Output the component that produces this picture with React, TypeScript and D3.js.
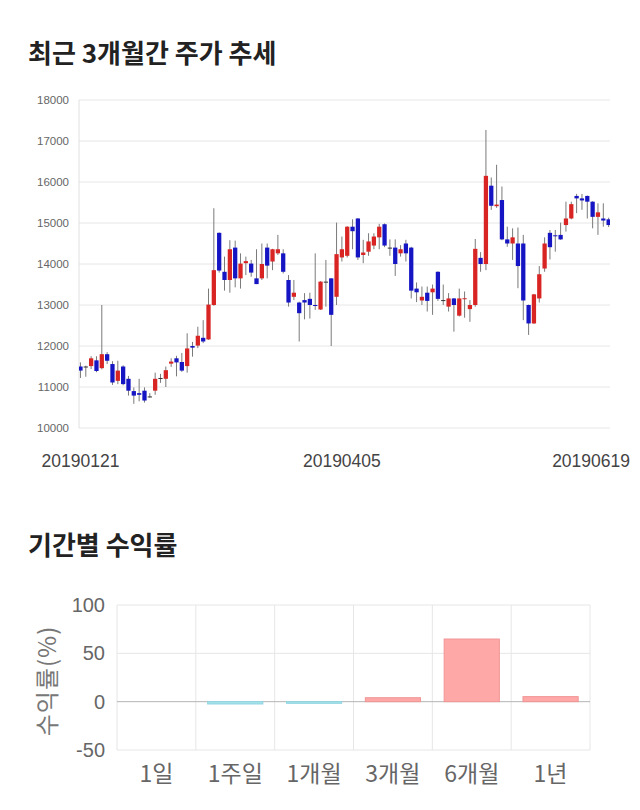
import React from "react";
import * as d3 from "d3";

// ---- Candle data (daily OHLC), 2019-01-21 .. 2019-06-19 ----
const candleOpen = [
  11500, 11500, 11510, 11650, 11460, 11800, 11560, 11150, 11500, 11200,
  10900, 10850, 10910, 10770, 10910, 11220, 11200, 11570, 11700, 11610,
  11510, 12000, 12010, 12200, 12160, 13000, 14760, 13810, 13610, 14400,
  13650, 14020, 14010, 13650, 13650, 14400, 14060, 14260, 14260, 13610,
  13200, 13060, 13120, 13150, 13000, 12890, 13570, 13650, 13200, 14160,
  14200, 14910, 15110, 14220, 14300, 14450, 14650, 14970, 14400, 14400,
  14260, 14500, 14400, 13400, 13110, 13300, 13310, 13810, 13120, 12960,
  13160, 12740, 13160, 12900, 13000, 14150, 14000, 15910, 15410, 15560,
  14600, 14500, 14500, 14500, 13000, 12550, 13160, 13890, 14760, 14700,
  14710, 14950, 15110, 15660, 15600, 15660, 15520, 15150, 15110, 15090,
];
const candleHigh = [
  11600, 11520, 11750, 11750, 13000, 11850, 11630, 11640, 11530, 11270,
  10990, 11200, 10990, 10850, 11350, 11320, 11500, 11700, 11760, 11830,
  12310, 12100, 12470, 12630, 13400, 15360, 14770, 14180, 14580, 14570,
  14260, 14180, 14100, 14360, 14500, 14500, 14370, 14710, 14360, 13730,
  13610, 13080, 13290, 13300, 14260, 13580, 14100, 13650, 15010, 14670,
  14920, 15090, 15120, 14590, 14750, 14750, 14980, 14990, 14600, 14600,
  14460, 14590, 14420, 13550, 13450, 13450, 13500, 13820, 13500, 13290,
  13170, 13400, 13330, 13120, 14610, 14290, 17270, 16110, 16420, 15890,
  14910, 14870, 14890, 14710, 13010, 13270, 13950, 14650, 14830, 14830,
  15010, 15520, 15520, 15710, 15710, 15670, 15530, 15480, 15480, 15130,
];
const candleLow = [
  11220, 11250, 11440, 11360, 11430, 11560, 11050, 11070, 11040, 10790,
  10590, 10650, 10620, 10740, 10810, 11100, 11000, 11490, 11260, 11370,
  11350, 11740, 11950, 12070, 12150, 12980, 13790, 13350, 13300, 13430,
  13400, 13730, 13690, 13510, 13610, 13650, 13850, 14220, 13770, 12960,
  13120, 12110, 12650, 12670, 12880, 12880, 12960, 12000, 13000, 14060,
  14160, 14360, 14100, 14020, 14200, 14360, 14360, 14410, 14200, 13710,
  14180, 14060, 13160, 13070, 13000, 12840, 12760, 13100, 13000, 12840,
  12350, 12720, 12690, 12590, 12960, 13810, 13850, 15320, 15370, 14580,
  14420, 14100, 13410, 12630, 12270, 12540, 13060, 13810, 14110, 14300,
  14590, 14790, 15090, 15240, 15320, 15110, 14870, 14710, 14910, 14900,
];
const candleClose = [
  11400, 11500, 11700, 11390, 11800, 11640, 11110, 11400, 11070, 10910,
  10790, 10810, 10670, 10770, 11200, 11220, 11410, 11620, 11600, 11400,
  11940, 11960, 12250, 12110, 13010, 13850, 13840, 13610, 14360, 13650,
  14010, 14070, 13790, 13510, 14000, 13960, 14360, 14360, 13810, 13060,
  13300, 12800, 13060, 13000, 12990, 13570, 13570, 12760, 14240, 14360,
  14910, 14800, 14160, 14280, 14550, 14670, 14910, 14450, 14400, 14000,
  14360, 14260, 13350, 13310, 13200, 13100, 13400, 13150, 13120, 13160,
  13000, 13160, 13165, 13000, 14370, 14000, 16150, 15420, 15450, 14600,
  14500, 14650, 13950, 13110, 12550, 13260, 13750, 14500, 14410, 14690,
  14600, 15110, 15460, 15600, 15550, 15520, 15150, 15260, 15060, 14950,
];
const xTickIndex = [0, 49, 99];
const xTickLabels = ["20190121", "20190405", "20190619"];
const priceTicks = [10000, 11000, 12000, 13000, 14000, 15000, 16000, 17000, 18000];

// ---- Period returns ----
const periods = ["1일", "1주일", "1개월", "3개월", "6개월", "1년"];
const returns = [0, -2.4, -1.7, 4.1, 64.8, 5.2];
const returnTicks = [-50, 0, 50, 100];

const KR = "'Noto Sans CJK KR', 'Noto Sans', sans-serif";

export default function App() {
  // top chart
  const idx = candleOpen.map((_, i) => i);
  const x = d3.scaleBand<number>().domain(idx).range([77.8, 611.3]).padding(0);
  const y = d3.scaleLinear().domain([10000, 18000]).range([428, 100]);
  const bw = x.bandwidth() * 0.8;
  const plotL = 79, plotR = 610;

  // bottom chart
  const bx = d3.scaleBand<string>().domain(periods).range([117, 590]).paddingInner(0.3).paddingOuter(0.15);
  const by = d3.scaleLinear().domain([-50, 100]).range([750, 605]);
  const step = bx.step();
  const colEdges = d3.range(periods.length + 1).map((k) => 117 + k * step);

  const xFont = 17.5;

  return (
    <svg width={640} height={810} style={{ position: "absolute", left: 0, top: 0, display: "block", background: "#fff" }}>
      <defs>
        <clipPath id="plotclip">
          <rect x={plotL} y={90} width={plotR - plotL} height={345} />
        </clipPath>
      </defs>
      <text x={28} y={51} fontFamily={KR} fontWeight="bold" fontSize={26} fill="#222" dominantBaseline="central">
        최근 3개월간 주가 추세
      </text>
      {priceTicks.map((t) => (
        <g key={t}>
          <line x1={plotL} x2={plotR} y1={y(t)} y2={y(t)} stroke="#e6e6e6" strokeWidth={1} />
          <text x={69} y={y(t)} textAnchor="end" dominantBaseline="central" fontFamily="'Liberation Sans', Arial, sans-serif" fontSize={11.5} fill="#666">
            {t}
          </text>
        </g>
      ))}
      <line x1={plotL} x2={plotL} y1={100} y2={428} stroke="#e0e0e0" />
      <g clipPath="url(#plotclip)">
        {idx.map((i) => {
          const o = candleOpen[i], c = candleClose[i], h = candleHigh[i], l = candleLow[i];
          const cx = (x(i) as number) + x.bandwidth() / 2;
          const top = y(Math.max(o, c));
          const bot = y(Math.min(o, c));
          const color = c > o ? "#d92424" : c < o ? "#1515c4" : "#333";
          return (
            <g key={i}>
              <line x1={cx} x2={cx} y1={y(h)} y2={y(l)} stroke="#7a7a7a" strokeWidth={1} />
              <rect x={cx - bw / 2} y={top} width={bw} height={Math.max(1, bot - top)} fill={color} />
            </g>
          );
        })}
      </g>
      {xTickIndex.map((ti, k) => {
        const half = (xTickLabels[k].length * 0.556 * xFont) / 2;
        let cx = (x(ti) as number) + x.bandwidth() / 2;
        cx = Math.min(cx, 630 - half);
        return (
          <text key={ti} x={cx} y={461} textAnchor="middle" dominantBaseline="central" fontFamily="'Liberation Sans', Arial, sans-serif" fontSize={xFont} fill="#444">
            {xTickLabels[k]}
          </text>
        );
      })}

      <text x={28} y={543} fontFamily={KR} fontWeight="bold" fontSize={26} fill="#222" dominantBaseline="central">
        기간별 수익률
      </text>
      {colEdges.map((ex, k) => (
        <line key={k} x1={ex} x2={ex} y1={605} y2={750} stroke="#e6e6e6" />
      ))}
      {returnTicks.map((t) => (
        <g key={t}>
          <line x1={117} x2={590} y1={by(t)} y2={by(t)} stroke={t === 0 ? "#b5b5b5" : "#e6e6e6"} />
          <text x={105} y={by(t)} textAnchor="end" dominantBaseline="central" fontFamily="'Liberation Sans', Arial, sans-serif" fontSize={20} fill="#666">
            {t}
          </text>
        </g>
      ))}
      {periods.map((p, k) => {
        const v = returns[k];
        if (v === 0) return null;
        const y0 = by(Math.max(0, v)), y1 = by(Math.min(0, v));
        return (
          <rect key={p} x={bx(p)} y={y0} width={bx.bandwidth()} height={y1 - y0}
            fill={v > 0 ? "#ffa8a8" : "#a9e3ec"} stroke={v > 0 ? "#f09494" : "#8ed4e0"} strokeWidth={1} />
        );
      })}
      {periods.map((p) => (
        <text key={p} x={(bx(p) as number) + bx.bandwidth() / 2} y={772} textAnchor="middle" dominantBaseline="central" fontFamily={KR} fontSize={23} fill="#666">
          {p}
        </text>
      ))}
      <text transform="translate(45,681) rotate(-90)" textAnchor="middle" dominantBaseline="central" fontFamily={KR} fontSize={24} letterSpacing={1} fill="#777">
        수익률(%)
      </text>
    </svg>
  );
}
